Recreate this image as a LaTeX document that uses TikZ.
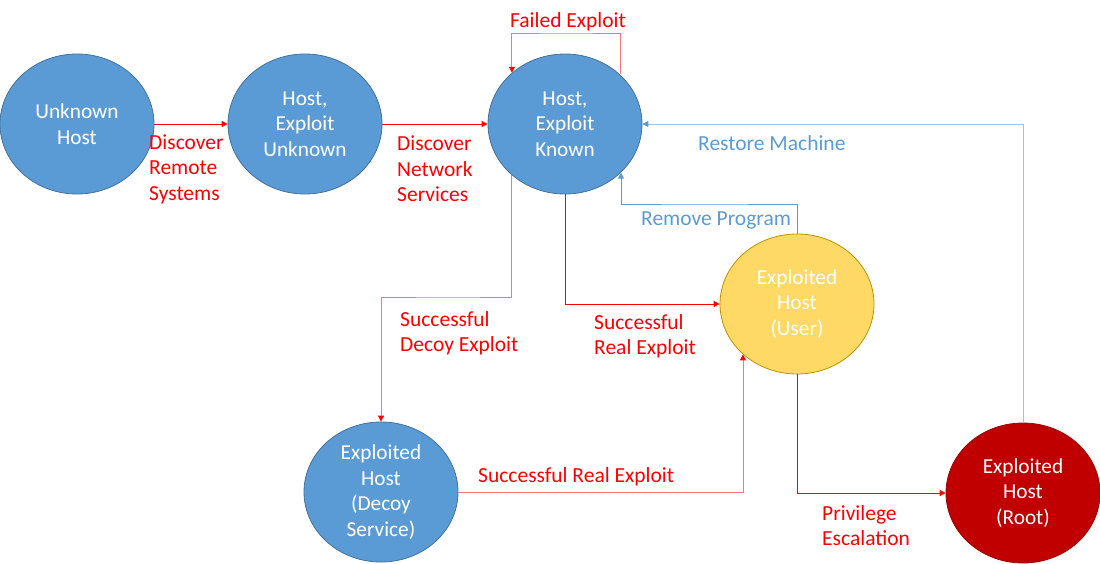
\documentclass[tikz,border=0pt]{standalone}
\usepackage{fontspec}
\setmainfont{Carlito}
\usetikzlibrary{shapes.geometric,arrows.meta}
\definecolor{nblue}{HTML}{5B9BD5}
\definecolor{nblueb}{HTML}{41719C}
\definecolor{nyel}{HTML}{FFD966}
\definecolor{nyelb}{HTML}{BF9000}
\definecolor{nred}{HTML}{C00000}
\definecolor{nredb}{HTML}{A00000}
\definecolor{lred}{HTML}{FF0000}
\tikzset{
  state/.style={ellipse, minimum width=154pt, minimum height=140pt, inner sep=0pt,
    text=white, align=center, font=\fontsize{21.3}{25.5}\selectfont, line width=0.8pt},
  bluestate/.style={state, fill=nblue, draw=nblueb},
  yelstate/.style={state, fill=nyel, draw=nyelb},
  redstate/.style={state, fill=nred, draw=nredb},
  redlink/.style={draw=lred, line width=0.8pt, -{Triangle[length=6pt,width=6pt]}},
  palelink/.style={draw=lred!55, line width=0.9pt, -{Triangle[length=6pt,width=6pt,color=lred]}},
  bluelink/.style={draw=nblue, line width=0.9pt, -{Triangle[length=6pt,width=6pt]}},
  palebluelink/.style={draw=nblue!60, line width=0.9pt, -{Triangle[length=6pt,width=6pt,color=nblue]}},
  redlbl/.style={text=lred, align=left, anchor=west, inner sep=0pt, font=\fontsize{21.5}{25.5}\selectfont},
  bluelbl/.style={text=nblue, align=left, anchor=west, inner sep=0pt, font=\fontsize{21.5}{25.5}\selectfont}
}
\begin{document}
\begin{tikzpicture}[x=1pt,y=-1pt]
\useasboundingbox (0,0) rectangle (1100,563);
% states
\node[bluestate] (U) at (77,124) {Unknown\\Host};
\node[bluestate] (EU) at (305,124) {Host,\\Exploit\\Unknown};
\node[bluestate] (K) at (565,124) {Host,\\Exploit\\Known};
\node[yelstate] (Y) at (797,304) {Exploited\\Host\\(User)};
\node[bluestate] (D) at (381,492) {Exploited\\Host\\(Decoy\\Service)};
\node[redstate] (R) at (1023,493) {Exploited\\Host\\(Root)};
% helper coordinates
\coordinate (ftop) at (566,33);
\coordinate (dmid) at (450,297);
\coordinate (rpmid) at (700,204);
% connectors
\draw[redlink] (U) -- (EU);
\draw[redlink] (EU) -- (K);
\draw[palelink] (K.42) |- (ftop) -| (K.136);
\draw[palelink] (K.224) |- (dmid) -| (D.north);
\draw[redlink] (K.south) |- (Y.west);
\draw[palelink] (D.east) -| (Y.223);
\draw[redlink] (Y.south) |- (R.west);
\draw[bluelink] (Y.north) |- (rpmid) -| (K.319);
\draw[palebluelink] (R.north) |- (K.east);
% labels
\node[redlbl] (l1) at (149,169) {Discover\\Remote\\Systems};
\node[redlbl] (l2) at (397,169) {Discover\\Network\\Services};
\node[redlbl, anchor=center] (l3) at (568,22) {Failed Exploit};
\node[bluelbl] (l4) at (698,143) {Restore Machine};
\node[bluelbl] (l5) at (641,220) {Remove Program};
\node[redlbl] (l6) at (400,333.5) {Successful\\Decoy Exploit};
\node[redlbl] (l7) at (594,336.5) {Successful\\Real Exploit};
\node[redlbl] (l8) at (478,477) {Successful Real Exploit};
\node[redlbl] (l9) at (822,525.5) {Privilege\\Escalation};
\end{tikzpicture}
\end{document}
